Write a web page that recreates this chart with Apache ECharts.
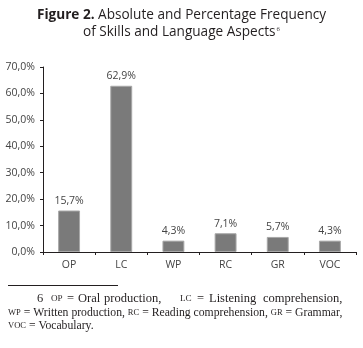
<!DOCTYPE html>
<html>
<head>
<meta charset="utf-8">
<script src="https://cdn.jsdelivr.net/npm/echarts@6/dist/echarts.min.js"></script>
<style>
html, body { margin: 0; padding: 0; background: #fff; }
#chart { width: 363px; height: 348px; }
</style>
</head>
<body>
<div id="chart"></div>
<script>
// categories and percentages
var categories = ["OP", "LC", "WP", "RC", "GR", "VOC"];
var percentValues = [15.7, 62.9, 4.3, 7.1, 5.7, 4.3];
var yTicks = [0, 10, 20, 30, 40, 50, 60, 70];

function pct(v) {
	return v.toFixed(1).replace(".", ",") + "%";
}

var myChart = echarts.init(document.getElementById("chart"));
var sans = "Open Sans";
var serif = "Liberation Serif";
var ink = "#231f20";

// footnote text piece (first line is justified, so it goes in parts)
function note(x, y, txt, size) {
	size = size || 11.7;
	return {
		type: "text",
		x: x,
		y: y,
		style: {
			text: txt,
			font: size + "px " + serif,
			fill: ink,
			verticalAlign: "middle",
			rich: { sc: { fontFamily: serif, fontSize: size * 0.73, fill: ink } }
		}
	};
}

var option = {
	animation: false,
	title: {
		left: "center",
		top: 2,
		text: "{b|Figure 2.} Absolute and Percentage Frequency\nof Skills and Language Aspects{sup|6}",
		textStyle: {
			fontFamily: sans,
			fontSize: 13.6,
			fontWeight: "normal",
			color: ink,
			lineHeight: 17,
			rich: {
				b: { fontFamily: sans, fontSize: 13.6, fontWeight: "bold", color: ink },
				sup: { fontFamily: sans, fontSize: 6, color: ink, padding: [0, 0, 7, 1] }
			}
		}
	},
	grid: {
		left: 43,
		right: 7,
		top: 67,
		bottom: 96,
		containLabel: false
	},
	xAxis: {
		type: "category",
		data: categories,
		axisLine: { lineStyle: { color: ink, width: 1 } },
		axisTick: { show: true, length: 3, alignWithLabel: false, lineStyle: { color: ink } },
		axisLabel: { color: "#444", fontFamily: sans, fontSize: 10.5, margin: 8 }
	},
	yAxis: {
		type: "value",
		min: 0,
		max: 70,
		interval: 10,
		axisLine: { show: true, lineStyle: { color: ink, width: 1 } },
		axisTick: { show: true, length: 3, lineStyle: { color: ink } },
		splitLine: { show: false },
		axisLabel: {
			color: "#444",
			fontFamily: sans,
			fontSize: 10.5,
			margin: 8,
			formatter: function (v) { return pct(v); }
		}
	},
	series: [
		{
			type: "bar",
			data: percentValues,
			barWidth: "42%",
			itemStyle: { color: "#7a7a7a", borderColor: "#a8a8a8", borderWidth: 1 },
			label: {
				show: true,
				position: "top",
				distance: 4,
				color: "#444",
				fontFamily: sans,
				fontSize: 10.5,
				formatter: function (p) { return pct(p.value); }
			}
		}
	],
	graphic: [
		{
			type: "line",
			shape: { x1: 8, y1: 285.5, x2: 118, y2: 285.5 },
			style: { stroke: ink, lineWidth: 1 }
		},
		note(37, 299, "6", 12.5),
		note(51, 299, "{sc|OP}", 12.5),
		note(67, 299, "=", 12.5),
		note(78, 299, "Oral", 12.5),
		note(104, 299, "production,", 12.5),
		note(180, 299, "{sc|LC}", 12.5),
		note(197, 299, "=", 12.5),
		note(209, 299, "Listening", 12.5),
		note(263, 299, "comprehension,", 12.5),
		note(8, 312.5, "{sc|WP} = Written production, {sc|RC} = Reading comprehension, {sc|GR} = Grammar,"),
		note(8, 326, "{sc|VOC} = Vocabulary.")
	]
};

myChart.setOption(option);
</script>
</body>
</html>
